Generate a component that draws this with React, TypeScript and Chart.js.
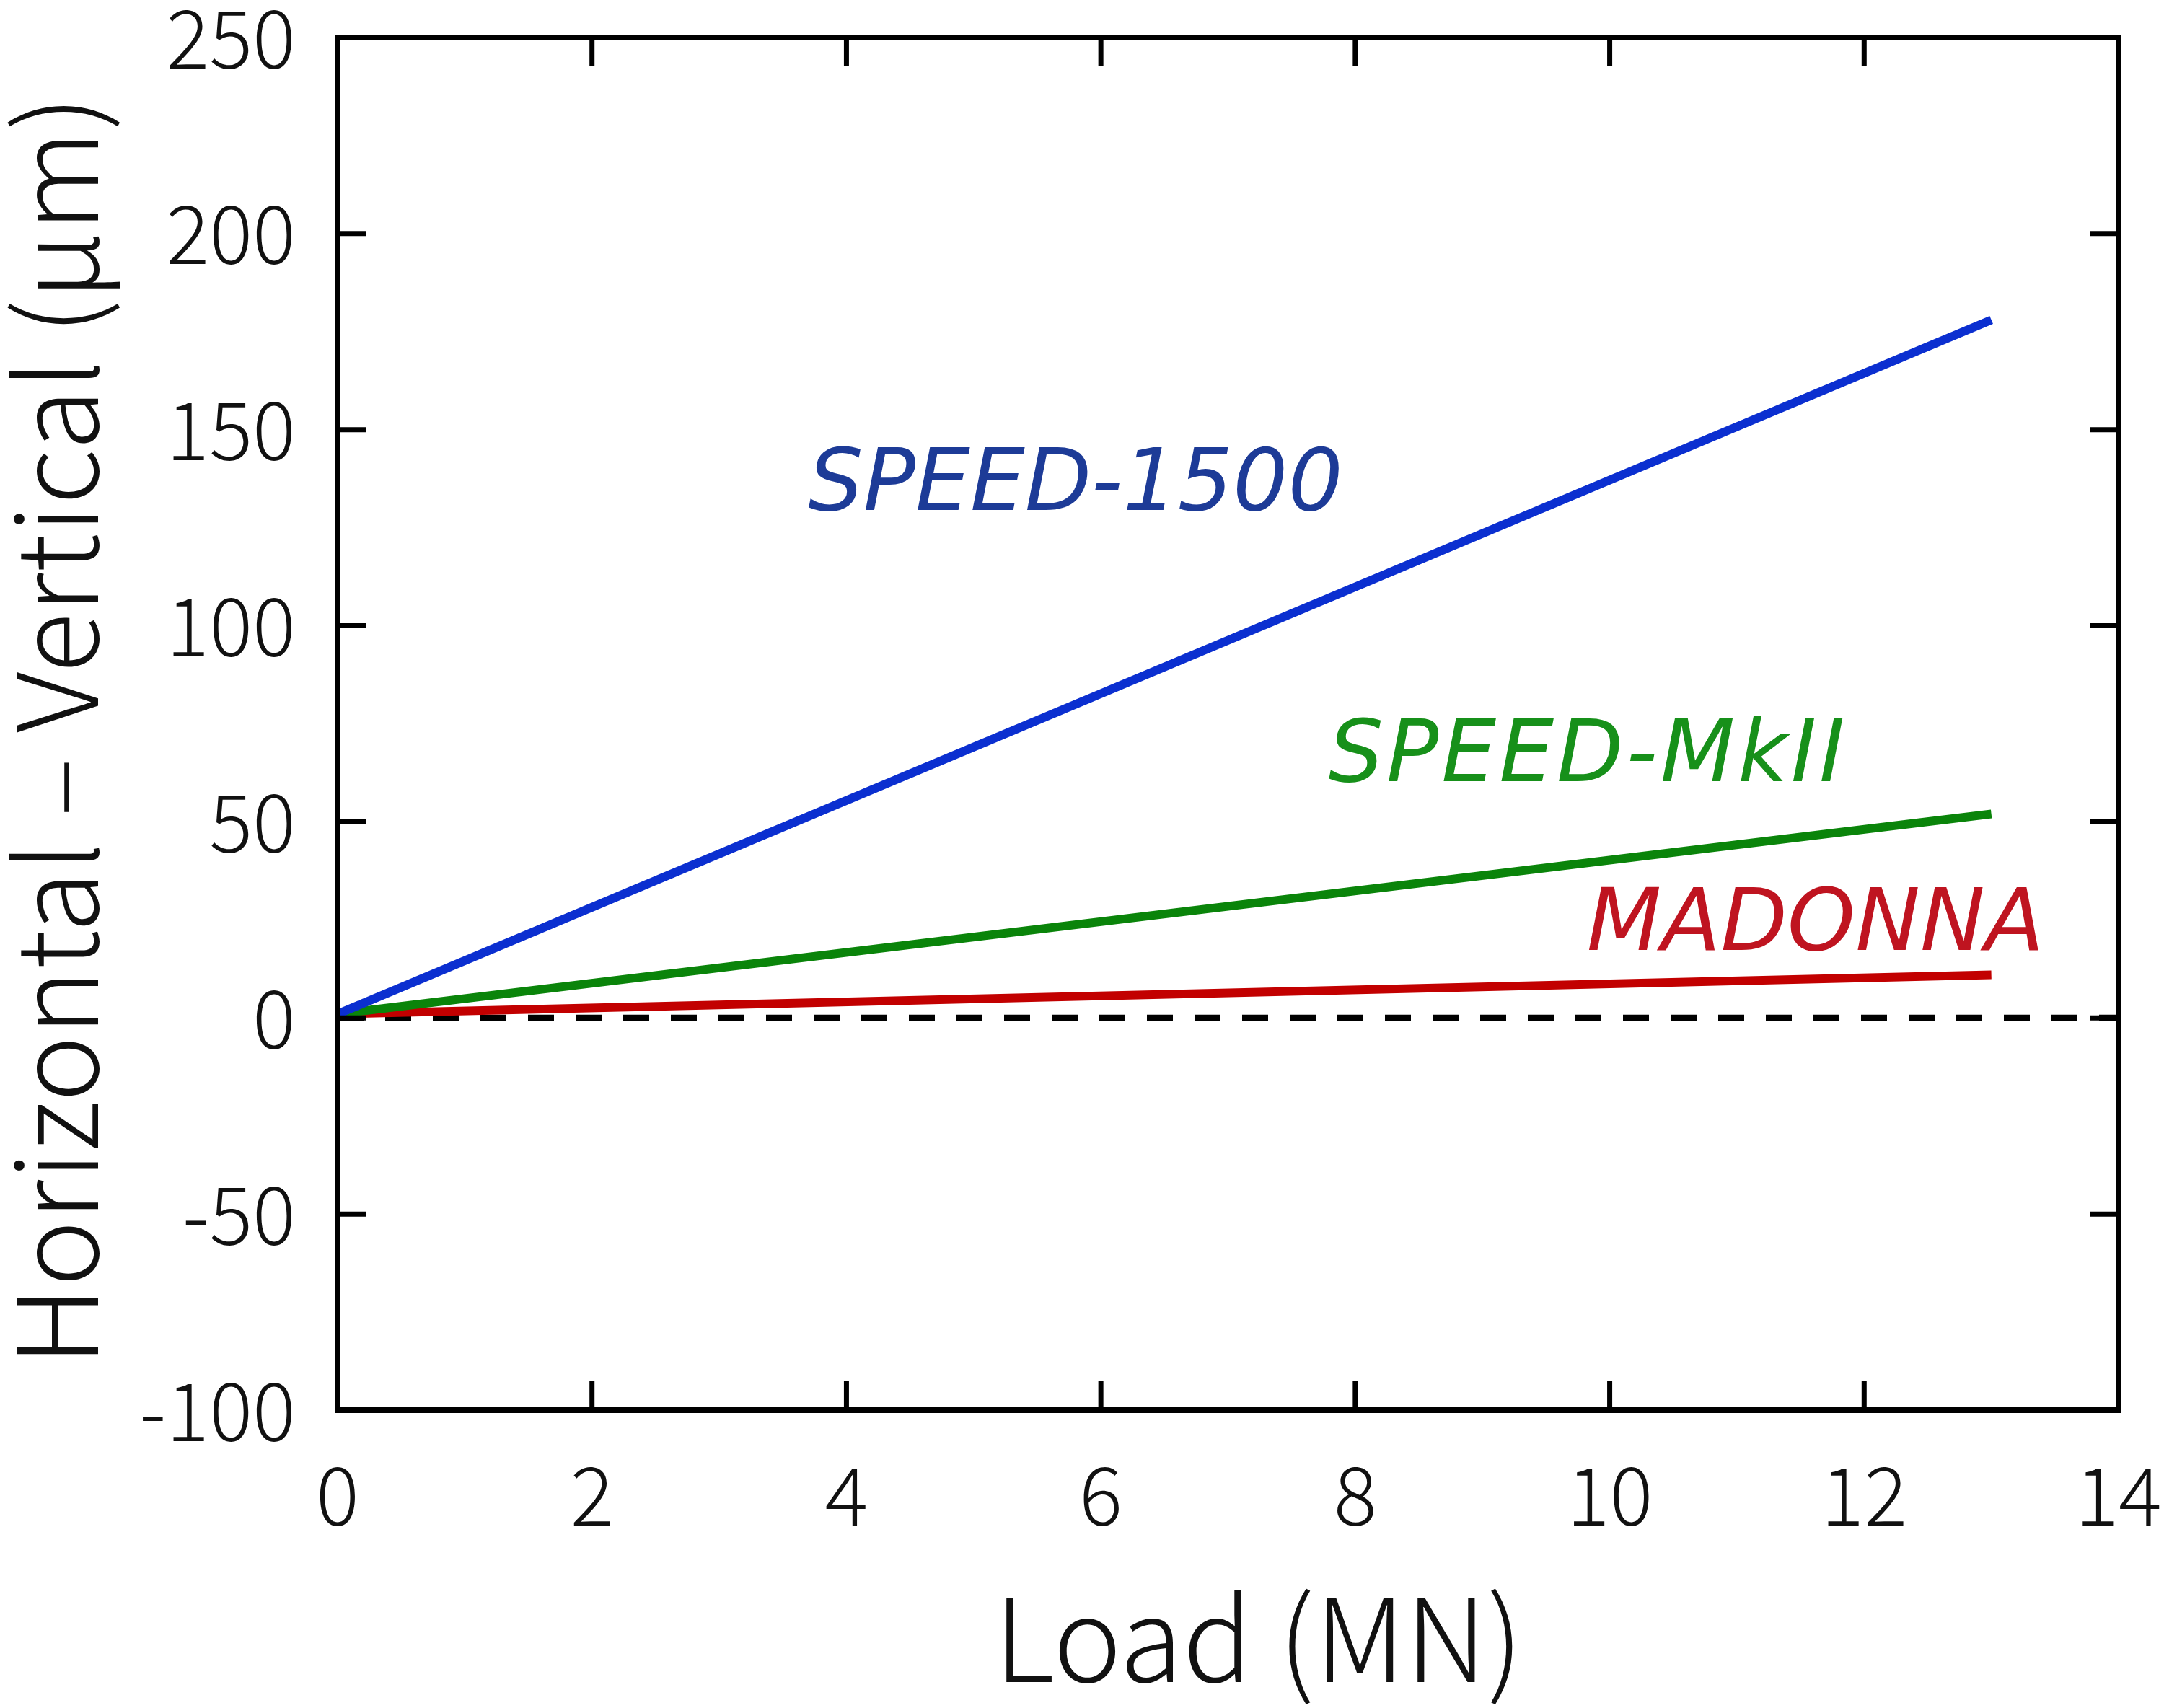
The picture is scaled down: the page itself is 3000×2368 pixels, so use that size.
import React, { useEffect, useRef } from "react";
import { Chart, registerables } from "chart.js";

Chart.register(...registerables);

// ---- data ----
const loadMN = [0, 13];
const speed1500 = [1, 178];
const speedMkII = [1, 52];
const madonna = [1, 11];
const zeroLineX = [0, 14];
const zeroLineY = [0, 0];
const xTickValues = [0, 2, 4, 6, 8, 10, 12, 14];
const yTickValues = [-100, -50, 0, 50, 100, 150, 200, 250];
const seriesNames = ["SPEED-1500", "SPEED-MkII", "MADONNA"];

// ---- styling / layout (not data) ----
const W = 3000;
const H = 2368;
const AREA = { left: 468, right: 2937, top: 52, bottom: 1955 };
const lineColors = ["#0b2fd0", "#0a840a", "#c20000"];
const textColors = ["#1d3b97", "#17901a", "#bf1420"];
const labelSpacing = ["0px", "4px", "0px"];
const labelAnchors = [
  { x: 3.7, y: 129.5 },
  { x: 7.79, y: 60.4 },
  { x: 9.82, y: 17.3 },
];
const CJK = "'Noto Sans CJK JP', 'Noto Sans', sans-serif";
const LABEL_FONT = "'DejaVu Sans', sans-serif";

const pts = (xs: number[], ys: number[]) => xs.map((x, i) => ({ x, y: ys[i] }));

const framePlugin = {
  id: "frame",
  afterDraw(chart: any) {
    const { ctx, chartArea: a, scales } = chart;
    const xs = scales.x;
    const ys = scales.y;
    ctx.save();
    // border
    ctx.strokeStyle = "#000";
    ctx.lineWidth = 8;
    ctx.lineJoin = "miter";
    ctx.strokeRect(a.left, a.top, a.right - a.left, a.bottom - a.top);
    // inward ticks on all four sides
    const TL = 40;
    ctx.lineWidth = 7;
    ctx.beginPath();
    xTickValues.forEach((v) => {
      const px = xs.getPixelForValue(v);
      ctx.moveTo(px, a.bottom);
      ctx.lineTo(px, a.bottom - TL);
      ctx.moveTo(px, a.top);
      ctx.lineTo(px, a.top + TL);
    });
    yTickValues.forEach((v) => {
      const py = ys.getPixelForValue(v);
      ctx.moveTo(a.left, py);
      ctx.lineTo(a.left + TL, py);
      ctx.moveTo(a.right, py);
      ctx.lineTo(a.right - TL, py);
    });
    ctx.stroke();

    // series labels
    ctx.font = `oblique 120px ${LABEL_FONT}`;
    ctx.textAlign = "left";
    ctx.textBaseline = "alphabetic";
    seriesNames.forEach((name, i) => {
      ctx.fillStyle = textColors[i];
      (ctx as any).letterSpacing = labelSpacing[i];
      ctx.fillText(
        name,
        xs.getPixelForValue(labelAnchors[i].x),
        ys.getPixelForValue(labelAnchors[i].y)
      );
    });
    (ctx as any).letterSpacing = "0px";

    // axis titles
    ctx.fillStyle = "#111";
    ctx.textAlign = "center";
    ctx.textBaseline = "middle";
    ctx.font = `300 160px ${CJK}`;
    ctx.fillText("Load (MN)", 1745, 2271);
    ctx.font = `300 155px ${CJK}`;
    ctx.save();
    ctx.translate(77, 1013);
    ctx.rotate(-Math.PI / 2);
    ctx.fillText("Horizontal – Vertical (μm)", 0, 0);
    ctx.restore();
    ctx.restore();
  },
};

export default function App() {
  const ref = useRef<HTMLCanvasElement | null>(null);
  useEffect(() => {
    const canvas = ref.current;
    if (!canvas) return;
    const chart = new Chart(canvas, {
      type: "scatter",
      data: {
        datasets: [
          {
            label: seriesNames[0],
            data: pts(loadMN, speed1500),
            showLine: true,
            borderColor: lineColors[0],
            borderWidth: 12,
            pointRadius: 0,
          },
          {
            label: seriesNames[1],
            data: pts(loadMN, speedMkII),
            showLine: true,
            borderColor: lineColors[1],
            borderWidth: 12,
            pointRadius: 0,
          },
          {
            label: seriesNames[2],
            data: pts(loadMN, madonna),
            showLine: true,
            borderColor: lineColors[2],
            borderWidth: 12,
            pointRadius: 0,
          },
          {
            label: "zero",
            data: pts(zeroLineX, zeroLineY),
            showLine: true,
            borderColor: "#000",
            borderWidth: 9,
            borderDash: [36, 30],
            pointRadius: 0,
          },
        ],
      },
      options: {
        responsive: false,
        animation: false,
        devicePixelRatio: 1,
        layout: {
          padding: { left: 0, top: AREA.top, right: W - AREA.right, bottom: 0 },
        },
        plugins: {
          legend: { display: false },
          tooltip: { enabled: false },
          title: { display: false },
        },
        scales: {
          x: {
            type: "linear",
            min: 0,
            max: 14,
            afterBuildTicks: (s: any) => {
              s.ticks = xTickValues.map((v) => ({ value: v }));
            },
            afterFit: (s: any) => {
              s.height = H - AREA.bottom;
              s.paddingLeft = 0;
              s.paddingRight = 0;
            },
            grid: { display: false, drawTicks: false },
            border: { display: false },
            ticks: {
              color: "#111",
              padding: 50,
              maxRotation: 0,
              autoSkip: false,
              font: { family: CJK, size: 112, weight: "300" },
            },
          },
          y: {
            type: "linear",
            min: -100,
            max: 250,
            afterBuildTicks: (s: any) => {
              s.ticks = yTickValues.map((v) => ({ value: v }));
            },
            afterFit: (s: any) => {
              s.width = AREA.left;
              s.paddingTop = 0;
              s.paddingBottom = 0;
            },
            grid: { display: false, drawTicks: false },
            border: { display: false },
            ticks: {
              color: "#111",
              padding: 58,
              autoSkip: false,
              font: { family: CJK, size: 112, weight: "300" },
            },
          },
        },
      },
      plugins: [framePlugin],
    });
    return () => chart.destroy();
  }, []);

  return (
    <div
      style={{
        position: "fixed",
        left: 0,
        top: 0,
        width: W,
        height: H,
        background: "#fff",
      }}
    >
      <canvas ref={ref} width={W} height={H} style={{ width: W, height: H, display: "block" }} />
    </div>
  );
}
